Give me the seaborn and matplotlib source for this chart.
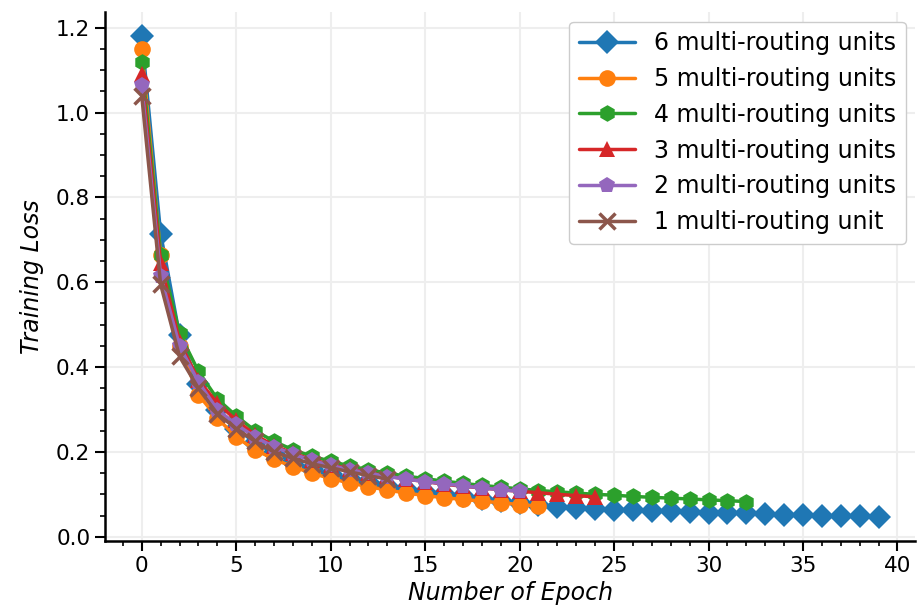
# Training loss vs epoch for different numbers of multi-routing units
import pandas as pd
import seaborn as sns
import matplotlib.pyplot as plt
from matplotlib.ticker import MultipleLocator

# Loss values
loss_6 = [1.18, 0.715, 0.475, 0.36, 0.30, 0.255, 0.222, 0.197, 0.177, 0.16,
          0.147, 0.137, 0.128, 0.12, 0.113, 0.106, 0.10, 0.095, 0.09, 0.085,
          0.08, 0.075, 0.07, 0.068, 0.066, 0.064, 0.062, 0.061, 0.06, 0.058,
          0.057, 0.056, 0.055, 0.053, 0.052, 0.051, 0.05, 0.049, 0.048, 0.046]
loss_5 = [1.15, 0.665, 0.45, 0.335, 0.28, 0.235, 0.205, 0.183, 0.165, 0.15,
          0.137, 0.127, 0.118, 0.11, 0.103, 0.097, 0.092, 0.088, 0.084, 0.08,
          0.076, 0.072]
loss_4 = [1.12, 0.665, 0.48, 0.39, 0.325, 0.285, 0.25, 0.225, 0.205, 0.19,
          0.178, 0.167, 0.158, 0.15, 0.143, 0.137, 0.131, 0.126, 0.121, 0.117,
          0.113, 0.109, 0.106, 0.103, 0.10, 0.098, 0.095, 0.093, 0.091, 0.089,
          0.087, 0.085, 0.083]
loss_3 = [1.09, 0.645, 0.46, 0.37, 0.315, 0.275, 0.24, 0.215, 0.197, 0.182,
          0.17, 0.16, 0.151, 0.143, 0.136, 0.13, 0.124, 0.119, 0.115, 0.111,
          0.107, 0.104, 0.10, 0.097, 0.094]
loss_2 = [1.065, 0.615, 0.45, 0.365, 0.30, 0.265, 0.235, 0.212, 0.195, 0.18,
          0.168, 0.158, 0.15, 0.142, 0.136, 0.13, 0.125, 0.12, 0.115, 0.111,
          0.107]
loss_1 = [1.04, 0.595, 0.425, 0.35, 0.29, 0.255, 0.225, 0.2, 0.185, 0.172,
          0.163, 0.153, 0.144, 0.136]

labels = ["6 multi-routing units", "5 multi-routing units", "4 multi-routing units",
          "3 multi-routing units", "2 multi-routing units", "1 multi-routing unit"]
series = [loss_6, loss_5, loss_4, loss_3, loss_2, loss_1]
markers = ["D", "o", "h", "^", "p", "x"]
colors = sns.color_palette("tab10", 6)

sns.set_style("ticks")
plt.rcParams["font.family"] = ["DejaVu Sans"]

fig, ax = plt.subplots(figsize=(9.2, 6.13), dpi=100)
fig.subplots_adjust(left=0.114, right=0.995, bottom=0.117, top=0.98)

for lab, vals, m, c in zip(labels, series, markers, colors):
    d = pd.DataFrame({"epoch": range(len(vals)), "loss": vals})
    sns.lineplot(data=d, x="epoch", y="loss", label=lab, color=c, marker=m,
                 linewidth=2.5, markersize=12, markeredgecolor=c,
                 markeredgewidth=2.5 if m == "x" else 0, ax=ax)

ax.grid(True, color="#eeeeee", linewidth=1.5)
ax.set_axisbelow(True)
ax.xaxis.set_minor_locator(MultipleLocator(1))
ax.yaxis.set_minor_locator(MultipleLocator(0.05))
ax.tick_params(axis="both", which="major", labelsize=15.5, length=7, width=1.5, color="black",
               labelcolor="black")
ax.tick_params(axis="both", which="minor", length=3.5, width=1.2, color="black")
for s in ["left", "bottom"]:
    ax.spines[s].set_color("black")
    ax.spines[s].set_linewidth(1.8)
sns.despine(ax=ax)

ax.set_xlabel("Number of Epoch", fontsize=17, style="italic", labelpad=4, color="black")
ax.set_ylabel("Training Loss", fontsize=17, style="italic", labelpad=9, color="black")
leg = ax.legend(loc="upper right", fontsize=17, framealpha=1, borderaxespad=0.4,
                handlelength=2.4, edgecolor="#cccccc", fancybox=True)
for t in leg.get_texts():
    t.set_color("black")

plt.savefig("out.png", dpi=100)
